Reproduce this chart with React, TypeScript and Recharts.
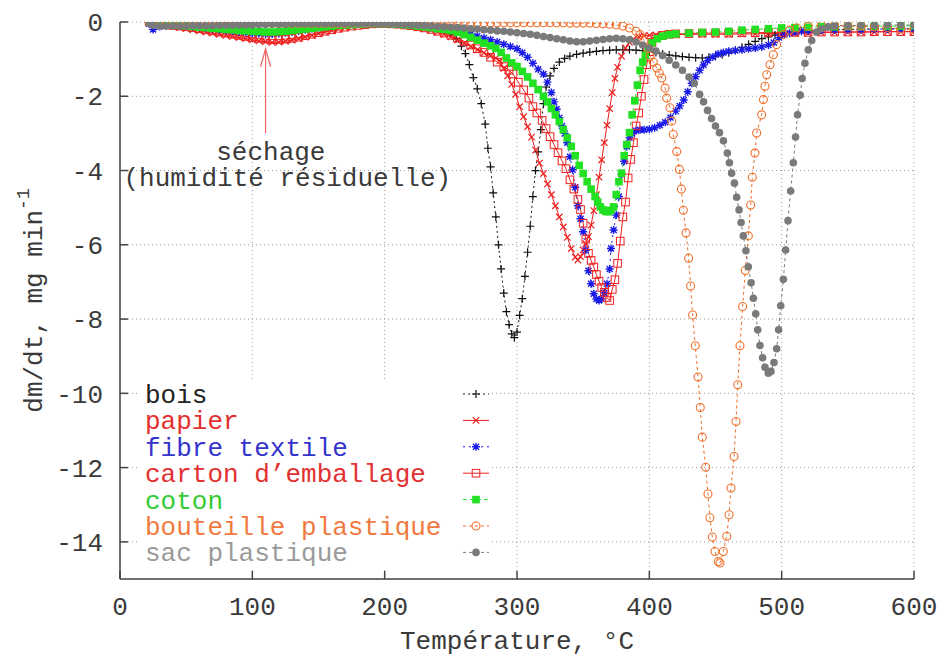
import {
  CartesianGrid,
  Legend,
  Line,
  LineChart,
  ReferenceDot,
  ReferenceLine,
  XAxis,
  YAxis,
} from 'recharts'

if (typeof document !== 'undefined') {
  document.body.style.margin = '0'
  document.body.style.overflow = 'hidden'
}

type Pt = [number, number]

const xTicks = [0, 100, 200, 300, 400, 500, 600]
const yTicks = [0, -2, -4, -6, -8, -10, -12, -14]

// dm/dt (mg/min) vs température (°C)
const bois: Pt[] = [
  [22, 0], [25, -0.04], [30, -0.07], [35, -0.09], [40, -0.1], [45, -0.11], [50, -0.12], [55, -0.13],
  [60, -0.14], [65, -0.15], [70, -0.17], [75, -0.19], [80, -0.21], [85, -0.23], [90, -0.25], [95, -0.27],
  [100, -0.28], [105, -0.29], [110, -0.3], [115, -0.3], [120, -0.29], [125, -0.27], [130, -0.25], [135, -0.22],
  [140, -0.19], [145, -0.16], [150, -0.13], [155, -0.11], [160, -0.09], [165, -0.07], [170, -0.06], [175, -0.05],
  [180, -0.04], [185, -0.03], [190, -0.03], [195, -0.03], [200, -0.03], [205, -0.04], [210, -0.05], [215, -0.06],
  [220, -0.08], [225, -0.1], [230, -0.12], [235, -0.15], [240, -0.19], [245, -0.24], [250, -0.32], [254, -0.45],
  [258, -0.65], [261, -0.85], [264, -1.15], [267, -1.5], [270, -1.8], [273, -2.2], [276, -2.75], [278, -3.4],
  [280, -3.9], [282, -4.6], [284, -5.25], [286, -6.0], [288, -6.65], [290, -7.3], [292, -7.8], [294, -8.15],
  [296, -8.4], [298, -8.5], [300, -8.35], [302, -7.9], [304, -7.45], [306, -6.85], [308, -6.2], [310, -5.5],
  [312, -4.7], [314, -4.0], [316, -3.5], [318, -2.9], [320, -2.2], [322, -1.75], [325, -1.45], [328, -1.25],
  [332, -1.08], [336, -0.98], [340, -0.92], [345, -0.87], [350, -0.84], [355, -0.81], [360, -0.79], [365, -0.77],
  [370, -0.76], [375, -0.75], [380, -0.75], [385, -0.75], [390, -0.76], [395, -0.77], [400, -0.79], [405, -0.82],
  [410, -0.86], [415, -0.89], [420, -0.91], [425, -0.93], [430, -0.95], [435, -0.96], [440, -0.97], [445, -0.95],
  [450, -0.92], [455, -0.88], [460, -0.83], [465, -0.76], [470, -0.68], [475, -0.6], [480, -0.52], [485, -0.45],
  [490, -0.4], [495, -0.35], [500, -0.31], [510, -0.27], [520, -0.24], [530, -0.22], [540, -0.21], [550, -0.2],
  [560, -0.19], [570, -0.19], [580, -0.18], [590, -0.18], [600, -0.18],
]

const papier: Pt[] = [
  [22, 0], [25, -0.03], [30, -0.06], [35, -0.09], [40, -0.12], [45, -0.15], [50, -0.18], [55, -0.21],
  [60, -0.24], [65, -0.27], [70, -0.3], [75, -0.33], [80, -0.36], [85, -0.39], [90, -0.42], [95, -0.45],
  [100, -0.48], [105, -0.51], [110, -0.53], [115, -0.55], [120, -0.54], [125, -0.52], [130, -0.49], [135, -0.45],
  [140, -0.41], [145, -0.36], [150, -0.31], [155, -0.27], [160, -0.23], [165, -0.19], [170, -0.15], [175, -0.12],
  [180, -0.09], [185, -0.07], [190, -0.05], [195, -0.04], [200, -0.04], [205, -0.04], [210, -0.06], [215, -0.08],
  [220, -0.11], [225, -0.14], [230, -0.18], [235, -0.22], [240, -0.27], [245, -0.33], [250, -0.4], [255, -0.48],
  [260, -0.57], [265, -0.66], [270, -0.75], [275, -0.83], [280, -0.9], [284, -0.97], [287, -1.05], [290, -1.25],
  [293, -1.45], [296, -1.68], [299, -1.95], [302, -2.28], [305, -2.55], [308, -2.82], [311, -3.1], [314, -3.45],
  [317, -3.8], [320, -4.08], [323, -4.36], [326, -4.65], [329, -4.95], [332, -5.25], [335, -5.52], [338, -5.8],
  [341, -6.1], [344, -6.33], [346, -6.41], [348, -6.32], [350, -6.14], [352, -5.97], [354, -5.78], [356, -5.47],
  [358, -5.08], [360, -4.65], [362, -4.18], [364, -3.71], [366, -3.25], [368, -2.78], [370, -2.33], [372, -1.9],
  [374, -1.52], [376, -1.22], [379, -0.92], [382, -0.7], [385, -0.55], [388, -0.46], [392, -0.4], [396, -0.37],
  [400, -0.36], [405, -0.35], [410, -0.34], [420, -0.34], [430, -0.33], [440, -0.33], [450, -0.33], [460, -0.33],
  [470, -0.32], [480, -0.32], [490, -0.31], [500, -0.31], [510, -0.3], [520, -0.29], [530, -0.28], [540, -0.28],
  [550, -0.27], [560, -0.27], [570, -0.27], [580, -0.26], [590, -0.26], [600, -0.26],
]

const fibre: Pt[] = [
  [22, -0.05], [25, -0.2], [30, -0.12], [35, -0.1], [40, -0.1], [45, -0.11], [50, -0.12], [55, -0.13],
  [60, -0.14], [65, -0.16], [70, -0.18], [75, -0.2], [80, -0.22], [85, -0.24], [90, -0.26], [95, -0.28],
  [100, -0.3], [105, -0.31], [110, -0.32], [115, -0.32], [120, -0.31], [125, -0.29], [130, -0.27], [135, -0.24],
  [140, -0.21], [145, -0.18], [150, -0.15], [155, -0.12], [160, -0.1], [165, -0.08], [170, -0.06], [175, -0.05],
  [180, -0.04], [185, -0.03], [190, -0.03], [195, -0.02], [200, -0.02], [205, -0.03], [210, -0.04], [215, -0.05],
  [220, -0.06], [225, -0.08], [230, -0.1], [235, -0.12], [240, -0.15], [245, -0.18], [250, -0.22], [255, -0.25],
  [260, -0.29], [265, -0.33], [270, -0.38], [275, -0.43], [280, -0.48], [285, -0.54], [290, -0.6], [295, -0.66],
  [300, -0.72], [304, -0.83], [308, -0.95], [312, -1.11], [316, -1.27], [320, -1.4], [323, -1.62], [326, -1.9],
  [328, -2.15], [330, -2.35], [332, -2.58], [334, -2.8], [336, -3.0], [338, -3.25], [340, -3.63], [342, -3.98],
  [344, -4.45], [346, -4.95], [348, -5.3], [350, -5.65], [352, -6.15], [354, -6.7], [356, -7.05], [358, -7.32],
  [360, -7.46], [362, -7.5], [364, -7.46], [366, -7.3], [368, -7.05], [370, -6.65], [371, -6.1], [373, -5.6],
  [375, -5.2], [377, -4.7], [379, -4.1], [381, -3.75], [383, -3.35], [385, -3.12], [387, -3.0], [390, -2.93],
  [393, -2.9], [396, -2.9], [400, -2.89], [404, -2.85], [408, -2.78], [412, -2.7], [416, -2.57], [420, -2.4],
  [423, -2.26], [426, -2.1], [429, -1.88], [432, -1.65], [435, -1.47], [438, -1.3], [441, -1.16], [444, -1.04],
  [448, -0.94], [452, -0.86], [456, -0.82], [460, -0.79], [465, -0.77], [470, -0.75], [475, -0.72], [480, -0.7],
  [485, -0.67], [490, -0.62], [494, -0.55], [498, -0.42], [502, -0.34], [506, -0.3], [510, -0.27], [515, -0.25],
  [520, -0.23], [530, -0.22], [540, -0.21], [550, -0.2], [560, -0.2], [570, -0.19], [580, -0.19], [590, -0.19],
  [600, -0.18],
]

const carton: Pt[] = [
  [22, 0], [25, -0.03], [30, -0.05], [35, -0.07], [40, -0.09], [45, -0.11], [50, -0.13], [55, -0.15],
  [60, -0.18], [65, -0.21], [70, -0.24], [75, -0.27], [80, -0.3], [85, -0.33], [90, -0.36], [95, -0.39],
  [100, -0.42], [105, -0.44], [110, -0.46], [115, -0.47], [120, -0.47], [125, -0.46], [130, -0.44], [135, -0.41],
  [140, -0.37], [145, -0.33], [150, -0.29], [155, -0.25], [160, -0.21], [165, -0.17], [170, -0.14], [175, -0.11],
  [180, -0.09], [185, -0.07], [190, -0.05], [195, -0.04], [200, -0.04], [205, -0.05], [210, -0.06], [215, -0.08],
  [220, -0.1], [225, -0.13], [230, -0.16], [235, -0.2], [240, -0.25], [245, -0.3], [250, -0.36], [255, -0.43],
  [260, -0.52], [265, -0.62], [270, -0.72], [275, -0.82], [280, -0.95], [285, -1.08], [290, -1.2], [294, -1.3],
  [297, -1.4], [301, -1.62], [305, -1.83], [309, -2.05], [312, -2.28], [315, -2.45], [319, -2.65], [322, -2.87],
  [325, -3.09], [328, -3.3], [331, -3.52], [334, -3.74], [337, -3.95], [340, -4.25], [343, -4.5], [346, -4.78],
  [348, -5.05], [350, -5.42], [352, -5.85], [354, -6.23], [356, -6.42], [358, -6.6], [360, -6.8], [362, -6.98],
  [364, -7.15], [366, -7.28], [368, -7.42], [370, -7.5], [372, -7.2], [374, -6.94], [376, -6.5], [378, -5.9],
  [380, -5.25], [382, -4.85], [384, -4.2], [386, -3.7], [388, -3.25], [390, -2.8], [392, -2.45], [394, -2.0],
  [396, -1.55], [398, -1.15], [400, -0.8], [402, -0.55], [405, -0.42], [410, -0.36], [415, -0.33], [420, -0.32],
  [430, -0.31], [440, -0.3], [450, -0.3], [460, -0.3], [470, -0.29], [480, -0.29], [490, -0.28], [500, -0.28],
  [510, -0.28], [520, -0.28], [530, -0.27], [540, -0.27], [550, -0.27], [560, -0.27], [570, -0.26], [580, -0.26],
  [590, -0.26], [600, -0.26],
]

const coton: Pt[] = [
  [22, 0], [25, -0.02], [30, -0.04], [35, -0.06], [40, -0.08], [45, -0.09], [50, -0.11], [55, -0.12],
  [60, -0.14], [65, -0.15], [70, -0.17], [75, -0.18], [80, -0.2], [85, -0.21], [90, -0.23], [95, -0.24],
  [100, -0.25], [105, -0.26], [110, -0.27], [115, -0.27], [120, -0.26], [125, -0.25], [130, -0.23], [135, -0.21],
  [140, -0.19], [145, -0.17], [150, -0.15], [155, -0.13], [160, -0.11], [165, -0.09], [170, -0.08], [175, -0.07],
  [180, -0.06], [185, -0.05], [190, -0.04], [195, -0.04], [200, -0.04], [205, -0.05], [210, -0.06], [215, -0.07],
  [220, -0.09], [225, -0.11], [230, -0.13], [235, -0.15], [240, -0.18], [245, -0.2], [250, -0.23], [255, -0.28],
  [260, -0.34], [265, -0.41], [270, -0.49], [275, -0.57], [280, -0.64], [284, -0.71], [288, -0.82], [292, -0.97],
  [296, -1.1], [300, -1.2], [304, -1.33], [308, -1.48], [312, -1.65], [316, -1.82], [320, -2.0], [323, -2.15],
  [326, -2.33], [329, -2.5], [332, -2.68], [335, -2.9], [338, -3.12], [341, -3.35], [344, -3.6], [347, -3.86],
  [350, -4.08], [353, -4.3], [356, -4.5], [359, -4.7], [361, -4.85], [363, -4.98], [365, -5.06], [367, -5.1],
  [369, -5.11], [371, -5.07], [373, -4.98], [375, -4.65], [377, -4.3], [379, -4.07], [381, -3.6], [383, -3.3],
  [385, -2.98], [387, -2.5], [389, -2.12], [391, -1.7], [393, -1.3], [395, -1.08], [397, -0.9], [399, -0.72],
  [402, -0.56], [406, -0.45], [410, -0.38], [415, -0.34], [420, -0.32], [430, -0.3], [440, -0.28], [450, -0.27],
  [460, -0.25], [470, -0.22], [480, -0.2], [490, -0.18], [500, -0.16], [510, -0.15], [520, -0.14], [530, -0.13],
  [540, -0.13], [550, -0.12], [560, -0.12], [570, -0.11], [580, -0.11], [590, -0.11], [600, -0.1],
]

const bouteille: Pt[] = [
  [22, 0], [25, -0.02], [30, -0.03], [35, -0.03], [40, -0.03], [45, -0.03], [50, -0.02], [55, -0.02],
  [60, -0.02], [65, -0.02], [70, -0.02], [75, -0.02], [80, -0.02], [85, -0.02], [90, -0.02], [95, -0.02],
  [100, -0.02], [105, -0.03], [110, -0.03], [115, -0.04], [120, -0.04], [125, -0.04], [130, -0.04], [135, -0.04],
  [140, -0.04], [145, -0.04], [150, -0.04], [155, -0.04], [160, -0.04], [165, -0.04], [170, -0.04], [175, -0.03],
  [180, -0.03], [185, -0.03], [190, -0.03], [195, -0.03], [200, -0.02], [205, -0.02], [210, -0.02], [215, -0.02],
  [220, -0.02], [225, -0.02], [230, -0.02], [235, -0.02], [240, -0.02], [245, -0.02], [250, -0.02], [255, -0.02],
  [260, -0.02], [265, -0.02], [270, -0.02], [275, -0.02], [280, -0.02], [285, -0.02], [290, -0.02], [295, -0.02],
  [300, -0.02], [305, -0.02], [310, -0.02], [315, -0.02], [320, -0.02], [325, -0.02], [330, -0.02], [335, -0.02],
  [340, -0.03], [345, -0.03], [350, -0.03], [355, -0.03], [360, -0.04], [365, -0.05], [370, -0.06], [375, -0.08],
  [380, -0.11], [385, -0.16], [390, -0.25], [393, -0.34], [396, -0.5], [398.5, -0.7], [400.6, -0.92],
  [403, -1.08], [405.6, -1.24], [407.5, -1.38], [409.4, -1.51], [411.9, -1.78], [413.1, -2.05], [415.6, -2.31],
  [416.9, -2.67], [418.1, -3.03], [420.7, -3.49], [422.7, -3.97], [424.2, -4.5], [425.7, -5.07], [427.7, -5.68],
  [429.7, -6.36], [431.2, -7.11], [432.7, -7.89], [434.7, -8.72], [436.8, -9.56], [438.5, -10.38], [440, -11.18],
  [442.6, -11.99], [444.3, -12.71], [445.8, -13.35], [447.6, -13.87], [449.6, -14.26], [452.1, -14.53],
  [453.4, -14.57], [455.9, -14.26], [458.5, -13.85], [460.2, -13.27], [461.7, -12.55], [464, -11.7],
  [465.5, -10.76], [466.8, -9.77], [468.5, -8.72], [470.5, -7.66], [472.5, -6.69], [474.8, -5.76], [476.6, -4.93],
  [477.8, -4.18], [479.8, -3.53], [481.1, -2.99], [484.9, -2.5], [486.2, -2.09], [487.4, -1.73], [488.7, -1.42],
  [491.2, -1.15], [493.7, -0.88], [496.2, -0.61], [501.3, -0.34], [506, -0.22], [511.4, -0.16], [520, -0.11],
  [530, -0.09], [540, -0.09], [550, -0.1], [560, -0.11], [570, -0.13], [580, -0.15], [590, -0.18], [600, -0.21],
]

const sac: Pt[] = [
  [22, -0.03], [25, -0.09], [30, -0.11], [35, -0.11], [40, -0.11], [45, -0.11], [50, -0.11], [55, -0.1],
  [60, -0.1], [65, -0.1], [70, -0.1], [75, -0.09], [80, -0.09], [85, -0.09], [90, -0.08], [95, -0.08],
  [100, -0.08], [105, -0.07], [110, -0.07], [115, -0.06], [120, -0.06], [125, -0.06], [130, -0.05], [135, -0.05],
  [140, -0.05], [145, -0.05], [150, -0.05], [155, -0.05], [160, -0.05], [165, -0.05], [170, -0.05], [175, -0.05],
  [180, -0.05], [185, -0.05], [190, -0.05], [195, -0.05], [200, -0.05], [205, -0.06], [210, -0.06], [215, -0.07],
  [220, -0.08], [225, -0.09], [230, -0.1], [235, -0.11], [240, -0.12], [245, -0.13], [250, -0.14], [255, -0.15],
  [260, -0.16], [265, -0.18], [270, -0.19], [275, -0.21], [280, -0.22], [285, -0.24], [290, -0.25], [295, -0.27],
  [300, -0.29], [305, -0.31], [310, -0.33], [315, -0.36], [320, -0.39], [325, -0.42], [330, -0.45], [335, -0.48],
  [340, -0.51], [345, -0.53], [350, -0.53], [355, -0.51], [360, -0.49], [365, -0.47], [370, -0.45], [375, -0.44],
  [380, -0.45], [385, -0.48], [390, -0.54], [395, -0.62], [400, -0.7], [405, -0.78], [410, -0.9], [415, -1.03],
  [420, -1.16], [425, -1.3], [430, -1.48], [434, -1.65], [438, -1.95], [441, -2.15], [444, -2.38], [447, -2.6],
  [450, -2.8], [453, -2.98], [456, -3.2], [458.9, -3.53], [460.5, -3.79], [462.2, -4.07], [464.3, -4.34],
  [466, -4.72], [467.8, -5.06], [469.3, -5.4], [471, -5.76], [473, -6.16], [474.8, -6.59], [476.9, -7.02],
  [478.6, -7.44], [480.4, -7.86], [481.9, -8.29], [483.6, -8.71], [485.6, -9.04], [487.4, -9.3], [489.9, -9.46],
  [491.9, -9.41], [494.2, -9.17], [496.2, -8.8], [497.7, -8.29], [499.3, -7.64], [501.3, -6.93], [503, -6.14],
  [504.8, -5.35], [506.8, -4.55], [508.8, -3.79], [510.5, -3.1], [512, -2.5], [514, -1.97], [515.5, -1.52],
  [517.6, -1.11], [520.1, -0.75], [522.7, -0.5], [526.4, -0.27], [530, -0.18], [535, -0.13], [540, -0.11],
  [550, -0.1], [560, -0.09], [570, -0.09], [580, -0.08], [590, -0.08], [600, -0.08],
]

const MONO = '"Liberation Mono", "DejaVu Sans Mono", monospace'
const AXIS = '#444'
const INK = '#3a3a3a'

type MarkerKind = 'plus' | 'cross' | 'star' | 'box' | 'boxFill' | 'circle' | 'circleFill'

const SERIES: Array<{
  name: string
  data: Pt[]
  color: string
  text: string
  dash?: string
  marker: MarkerKind
}> = [
  { name: 'bois', data: bois, color: '#111111', text: '#222222', dash: '2 3', marker: 'plus' },
  { name: 'papier', data: papier, color: '#ee1c1c', text: '#e33030', marker: 'cross' },
  { name: 'fibre textile', data: fibre, color: '#1a1ae8', text: '#3434cc', dash: '2 4', marker: 'star' },
  { name: "carton d'emballage", data: carton, color: '#ee2020', text: '#e33030', marker: 'box' },
  { name: 'coton', data: coton, color: '#22e022', text: '#33cc33', dash: '4 3', marker: 'boxFill' },
  { name: 'bouteille plastique', data: bouteille, color: '#f0702c', text: '#f07a40', dash: '3 3', marker: 'circle' },
  { name: 'sac plastique', data: sac, color: '#7a7a7a', text: '#9a9a9a', dash: '3 3', marker: 'circleFill' },
]

function Marker({ cx, cy, kind, color }: { cx?: number; cy?: number; kind: MarkerKind; color: string }) {
  if (cx == null || cy == null || Number.isNaN(cx) || Number.isNaN(cy)) return null
  switch (kind) {
    case 'plus':
      return <path d={`M${cx - 4},${cy}h8M${cx},${cy - 4}v8`} stroke={color} strokeWidth={1.2} fill="none" />
    case 'cross':
      return <path d={`M${cx - 3.2},${cy - 3.2}l6.4,6.4M${cx - 3.2},${cy + 3.2}l6.4,-6.4`} stroke={color} strokeWidth={1.2} fill="none" />
    case 'star':
      return (
        <path
          d={`M${cx - 4},${cy}h8M${cx},${cy - 4}v8M${cx - 3},${cy - 3}l6,6M${cx - 3},${cy + 3}l6,-6`}
          stroke={color}
          strokeWidth={1.4}
          fill="none"
        />
      )
    case 'box':
      return <rect x={cx - 3.8} y={cy - 3.8} width={7.6} height={7.6} stroke={color} strokeWidth={1} fill="none" />
    case 'boxFill':
      return <rect x={cx - 3.8} y={cy - 3.8} width={7.6} height={7.6} fill={color} />
    case 'circle':
      return <circle cx={cx} cy={cy} r={4} stroke={color} strokeWidth={1.1} fill="none" />
    default:
      return <circle cx={cx} cy={cy} r={3.8} fill={color} />
  }
}

function LegendBox() {
  return (
    <svg width={350} height={188} style={{ display: 'block' }}>
      <rect x={0} y={0} width={350} height={188} fill="#fff" />
      {SERIES.map((s, i) => {
        const mid = 14 + i * 26.4
        return (
          <g key={s.name}>
            <text x={5} y={mid + 9} fontFamily={MONO} fontSize={26} fill={s.text}>
              {s.name.replace("'", '\u2019')}
            </text>
            <line x1={323} x2={349} y1={mid} y2={mid} stroke={s.color} strokeWidth={1} strokeDasharray={s.dash} />
            <Marker cx={336} cy={mid} kind={s.marker} color={s.color} />
          </g>
        )
      })}
    </svg>
  )
}

function YTitle({ viewBox }: { viewBox?: { x: number; y: number; width: number; height: number } }) {
  if (!viewBox) return null
  const x = viewBox.x + 12
  const y = viewBox.y + viewBox.height / 2
  return (
    <text x={x} y={y} transform={`rotate(-90 ${x} ${y})`} textAnchor="middle" fontFamily={MONO} fontSize={26} fill={INK}>
      dm/dt, mg min
      <tspan dy={-13} fontSize={18}>
        -1
      </tspan>
    </text>
  )
}

function Arrow(props: any) {
  const { x1, y1, x2, y2 } = props
  const tip = Math.min(y1, y2)
  const tail = Math.max(y1, y2)
  return (
    <g stroke="#f06464" strokeWidth={1.2} fill="none">
      <line x1={x1} x2={x2} y1={tail} y2={tip} />
      <path d={`M${x1 - 5},${tip + 18}L${x1},${tip}L${x1 + 5},${tip + 18}`} />
    </g>
  )
}

const note = (text: string) => (p: any) => (
  <text x={p.cx} y={p.cy} textAnchor="middle" fontFamily={MONO} fontSize={26} fill={INK}>
    {text}
  </text>
)

export default function App() {
  return (
    <LineChart width={938} height={658} margin={{ top: 22, right: 24, left: 30, bottom: 39 }}>
      <CartesianGrid stroke="#9a9a9a" strokeDasharray="1 3" />
      <XAxis
        dataKey="t"
        type="number"
        domain={[0, 600]}
        ticks={xTicks}
        allowDataOverflow
        height={40}
        tickSize={-8}
        tickMargin={26}
        stroke={AXIS}
        strokeWidth={1.5}
        tick={{ fontSize: 26, fontFamily: MONO, fill: INK }}
        label={{ value: 'Température, °C', position: 'bottom', offset: 12, fontSize: 26, fontFamily: MONO, fill: INK }}
      />
      <XAxis
        xAxisId="top"
        orientation="top"
        type="number"
        domain={[0, 600]}
        ticks={xTicks}
        height={0}
        tickSize={-8}
        tick={false}
        stroke={AXIS}
        strokeWidth={1.5}
      />
      <YAxis
        type="number"
        domain={[-15, 0]}
        ticks={yTicks}
        allowDataOverflow
        width={90}
        tickSize={-8}
        tickMargin={25}
        stroke={AXIS}
        strokeWidth={1.5}
        tick={{ fontSize: 26, fontFamily: MONO, fill: INK }}
        label={<YTitle />}
      />
      <YAxis
        yAxisId="r"
        orientation="right"
        type="number"
        domain={[-15, 0]}
        ticks={yTicks}
        width={0}
        tickSize={-8}
        tick={false}
        stroke={AXIS}
        strokeWidth={1.5}
      />
      <ReferenceLine segment={[{ x: 110, y: -3.0 }, { x: 110, y: -0.72 }]} shape={Arrow} />
      <ReferenceDot x={114} y={-3.71} r={0} shape={note('séchage')} />
      <ReferenceDot x={126.4} y={-4.41} r={0} shape={note('(humidité résiduelle)')} />
      {SERIES.map((s) => (
        <Line
          key={s.name}
          name={s.name}
          data={s.data.map(([t, v]) => ({ t, v }))}
          dataKey="v"
          type="linear"
          stroke={s.color}
          strokeWidth={1}
          strokeDasharray={s.dash}
          isAnimationActive={false}
          activeDot={false}
          dot={(p: any) => <Marker key={`${s.name}-${p.index}`} cx={p.cx} cy={p.cy} kind={s.marker} color={s.color} />}
        />
      ))}
      <Legend
        layout="horizontal"
        verticalAlign="middle"
        align="center"
        content={() => <LegendBox />}
        wrapperStyle={{ left: 140, top: 380, width: 350, height: 188 }}
      />
    </LineChart>
  )
}
